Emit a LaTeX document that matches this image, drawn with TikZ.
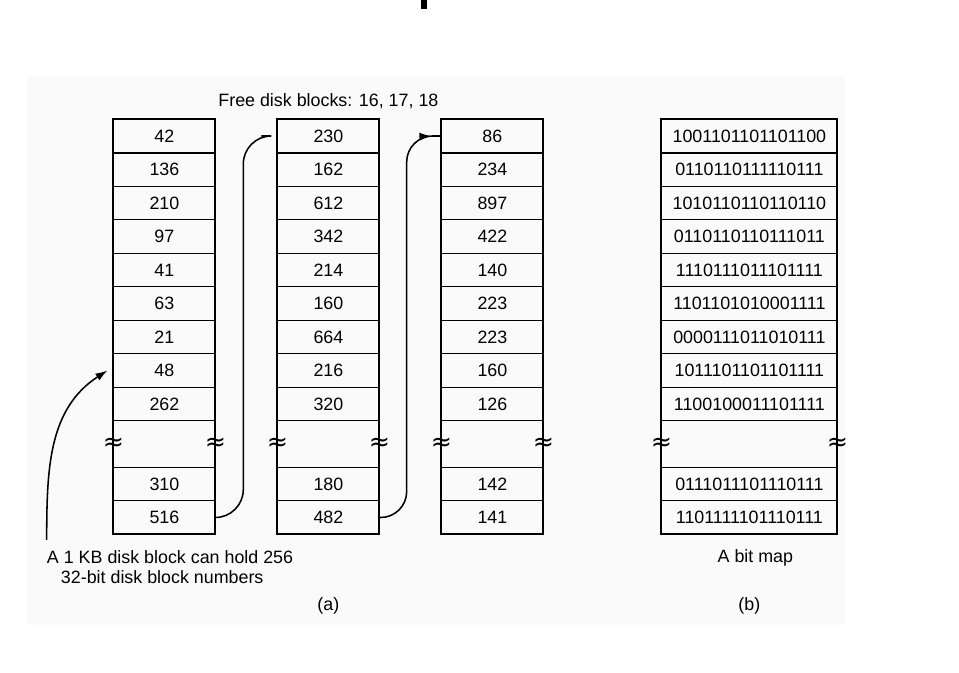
\documentclass[tikz,border=0pt]{standalone}
\usepackage{fontspec}
\setmainfont{Liberation Sans}
\newfontfamily\dejavu{DejaVu Sans}
\usetikzlibrary{calc}
\usetikzlibrary{arrows.meta}
\usetikzlibrary{positioning}
\usetikzlibrary{decorations.markings}
\definecolor{paper}{HTML}{FAFAFA}
\tikzset{
  slot/.style={rectangle, draw, line width=0.8pt, minimum width=2.55cm, minimum height=0.8375cm, inner sep=0pt, outer sep=0pt},
  bitslot/.style={slot, minimum width=4.4cm},
  gapslot/.style={slot, minimum height=1.1625cm},
  bitgap/.style={bitslot, minimum height=1.1625cm},
  frame/.style={draw, line width=1.4pt},
  brk/.style={inner sep=0pt, font=\fontsize{18}{20}\selectfont\dejavu},
  link/.style={draw, line width=1.1pt},
  arrow/.style={draw, -{Latex[length=3mm, width=2mm]}, line width=1.1pt},
  midarrow/.style={link, postaction={decorate}, decoration={markings, mark=at position -0.25cm with {\arrow{Latex[length=3mm, width=2mm]}}}}
  }

\begin{document}
\begin{tikzpicture}[font=\fontsize{12.7}{15}\selectfont]
	% Page
	\useasboundingbox (0,0) rectangle (23.975,-16.825);
	\fill [paper] (0.675,-1.9) rectangle (21.125,-15.625);
	\fill (10.525,0) rectangle (10.675,-0.225);

	% First block of numbers
	\node[slot] (c1a) at (4.11,-3.4) {42};
	\node[slot, below = 0pt of c1a] (c1b) {136};
	\node[slot, below = 0pt of c1b] (c1c) {210};
	\node[slot, below = 0pt of c1c] (c1d) {97};
	\node[slot, below = 0pt of c1d] (c1e) {41};
	\node[slot, below = 0pt of c1e] (c1f) {63};
	\node[slot, below = 0pt of c1f] (c1g) {21};
	\node[slot, below = 0pt of c1g] (c1h) {48};
	\node[slot, below = 0pt of c1h] (c1i) {262};
	\node[gapslot, below = 0pt of c1i] (c1gap) {};
	\node[slot, below = 0pt of c1gap] (c1j) {310};
	\node[slot, below = 0pt of c1j] (c1k) {516};

	% Second block
	\node[slot, right = 1.55cm of c1a] (c2a) {230};
	\node[slot, below = 0pt of c2a] (c2b) {162};
	\node[slot, below = 0pt of c2b] (c2c) {612};
	\node[slot, below = 0pt of c2c] (c2d) {342};
	\node[slot, below = 0pt of c2d] (c2e) {214};
	\node[slot, below = 0pt of c2e] (c2f) {160};
	\node[slot, below = 0pt of c2f] (c2g) {664};
	\node[slot, below = 0pt of c2g] (c2h) {216};
	\node[slot, below = 0pt of c2h] (c2i) {320};
	\node[gapslot, below = 0pt of c2i] (c2gap) {};
	\node[slot, below = 0pt of c2gap] (c2j) {180};
	\node[slot, below = 0pt of c2j] (c2k) {482};

	% Third block
	\node[slot, right = 1.55cm of c2a] (c3a) {86};
	\node[slot, below = 0pt of c3a] (c3b) {234};
	\node[slot, below = 0pt of c3b] (c3c) {897};
	\node[slot, below = 0pt of c3c] (c3d) {422};
	\node[slot, below = 0pt of c3d] (c3e) {140};
	\node[slot, below = 0pt of c3e] (c3f) {223};
	\node[slot, below = 0pt of c3f] (c3g) {223};
	\node[slot, below = 0pt of c3g] (c3h) {160};
	\node[slot, below = 0pt of c3h] (c3i) {126};
	\node[gapslot, below = 0pt of c3i] (c3gap) {};
	\node[slot, below = 0pt of c3gap] (c3j) {142};
	\node[slot, below = 0pt of c3j] (c3k) {141};

	% Bit map
	\node[bitslot, right = 2.95cm of c3a] (c4a) {1001101101101100};
	\node[bitslot, below = 0pt of c4a] (c4b) {0110110111110111};
	\node[bitslot, below = 0pt of c4b] (c4c) {1010110110110110};
	\node[bitslot, below = 0pt of c4c] (c4d) {0110110110111011};
	\node[bitslot, below = 0pt of c4d] (c4e) {1110111011101111};
	\node[bitslot, below = 0pt of c4e] (c4f) {1101101010001111};
	\node[bitslot, below = 0pt of c4f] (c4g) {0000111011010111};
	\node[bitslot, below = 0pt of c4g] (c4h) {1011101101101111};
	\node[bitslot, below = 0pt of c4h] (c4i) {1100100011101111};
	\node[bitgap, below = 0pt of c4i] (c4gap) {};
	\node[bitslot, below = 0pt of c4gap] (c4j) {0111011101110111};
	\node[bitslot, below = 0pt of c4j] (c4k) {1101111101110111};

	% Heavy outlines
	\draw [frame] (c1a.north west) rectangle (c1k.south east);
	\draw [frame] (c2a.north west) rectangle (c2k.south east);
	\draw [frame] (c3a.north west) rectangle (c3k.south east);
	\draw [frame] (c4a.north west) rectangle (c4k.south east);
	\draw [frame] (c1a.south west) -- (c1a.south east);
	\draw [frame] (c2a.south west) -- (c2a.south east);
	\draw [frame] (c3a.south west) -- (c3a.south east);
	\draw [frame] (c4a.south west) -- (c4a.south east);

	% Break marks
	\node[brk] (w1) at (c1gap.west) {≈};
	\node[brk] (e1) at (c1gap.east) {≈};
	\node[brk] (w2) at (c2gap.west) {≈};
	\node[brk] (e2) at (c2gap.east) {≈};
	\node[brk] (w3) at (c3gap.west) {≈};
	\node[brk] (e3) at (c3gap.east) {≈};
	\node[brk] (w4) at (c4gap.west) {≈};
	\node[brk] (e4) at (c4gap.east) {≈};

	% Labels
	\node[above = 0.13cm of c2a] (title) {Free disk blocks: 16, 17, 18};
	\node[anchor=west, inner sep=0pt] (hold) at (1.1675,-13.92) {A 1 KB disk block can hold 256};
	\node[anchor=west, inner sep=0pt] (numbers) at (1.5175,-14.42) {32-bit disk block numbers};
	\node[below = 0.25cm of c4k, xshift=0.15cm] (bitmap) {A bit map};
	\node[below = 1.45cm of c2k] (parta) {(a)};
	\node[below = 1.47cm of c4k] (partb) {(b)};

	% Links
	\coordinate (up1) at ($(c1a.east)!0.45!(c2a.west)$);
	\coordinate (end1) at ($(c1a.east)!0.74!(c2a.west)$);
	\coordinate (up2) at ($(c2a.east)!0.44!(c3a.west)$);
	\coordinate (start3) at ($(hold.north west)+(0,0.25)$);
	\draw [link, rounded corners=0.7cm] (c1k.east) -| (up1) [rounded corners=0.3cm] -- (end1);
	\draw [midarrow, rounded corners=0.65cm] (c2k.east) -| (up2) [rounded corners=0.3cm] -- (c3a.west);
	\draw [arrow] (start3) to[out=90, in=213] ([xshift=-0.15cm]c1h.west);

\end{tikzpicture}
\end{document}
